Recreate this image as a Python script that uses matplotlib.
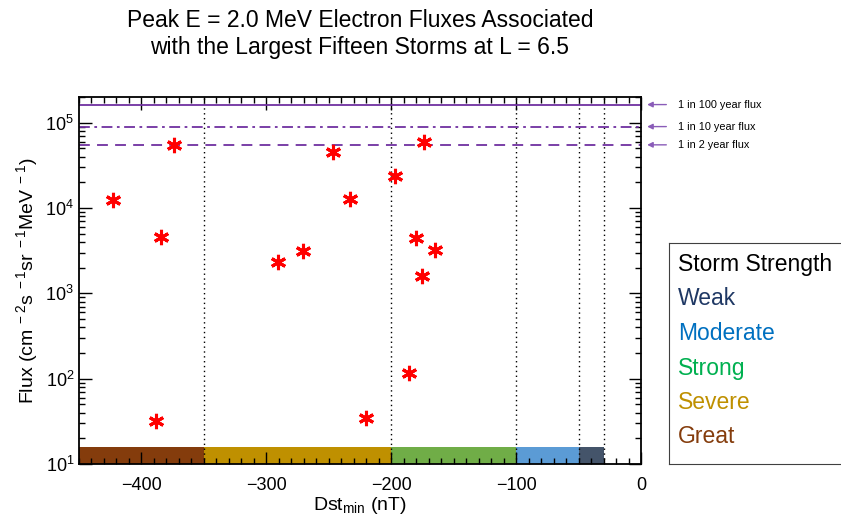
import matplotlib
matplotlib.use("Agg")
import matplotlib.pyplot as plt
import matplotlib.transforms as mtransforms
from matplotlib.ticker import MultipleLocator, LogLocator, NullFormatter
import numpy as np

plt.rcParams['font.family'] = ['Liberation Sans', 'DejaVu Sans']
plt.rcParams['mathtext.fontset'] = 'custom'
plt.rcParams['mathtext.rm'] = 'Liberation Sans'
plt.rcParams['mathtext.it'] = 'Liberation Sans:italic'

# storm minimum Dst (nT) and peak 2 MeV flux for the fifteen storms
dst_min = [-423, -388, -384, -374, -291, -271, -247, -233, -220, -197,
           -186, -180, -175, -174, -165]
flux = [12450, 32, 4620, 54900, 2355, 3140, 45100, 12680, 35, 24000,
        116, 4500, 1600, 60000, 3250]

# return-period flux levels
flux_levels = [1.63e5, 9.0e4, 5.5e4]
level_labels = ["1 in 100 year flux", "1 in 10 year flux", "1 in 2 year flux"]
level_styles = ["-", (0, (6, 2.5, 1.5, 2.5)), (0, (6, 4))]

# storm strength bands along the Dst axis
band_names = ["Great", "Severe", "Strong", "Moderate", "Weak"]
band_edges = [-450, -350, -200, -100, -50, -30]
band_colors = ["#843c0c", "#bf9000", "#70ad47", "#5b9bd5", "#44546a"]
text_colors = {"Weak": "#1f3864", "Moderate": "#0070c0", "Strong": "#00b050",
               "Severe": "#bf9000", "Great": "#843c0c"}

purple = "#7030a0"

fig = plt.figure(figsize=(8.41, 5.16), dpi=100)
ax = fig.add_axes([79 / 841, 1 - 464 / 516, (641 - 79) / 841, (464 - 97) / 516])

ax.set_yscale("log")
ax.set_xlim(-450, 0)
ax.set_ylim(10, 2.0e5)

# coloured strength bar at the bottom
for i, name in enumerate(band_names):
    x0, x1 = band_edges[i], band_edges[i + 1]
    ax.fill_between([x0, x1], 10, 15.8, color=band_colors[i], lw=0, zorder=1)

for x in band_edges[1:]:
    ax.axvline(x, color="black", ls=(0, (1, 2.5)), lw=1, zorder=2)

for lvl, ls in zip(flux_levels, level_styles):
    ax.axhline(lvl, color=purple, ls=ls, lw=1.3, zorder=2)

ax.plot(dst_min, flux, ls="none", marker=(6, 2, 0), ms=11, mew=2.2,
        color="red", zorder=3)

# arrows and labels for the flux levels, placed right of the axes
trans = mtransforms.blended_transform_factory(ax.transAxes, ax.transData)
for lvl, lab in zip(flux_levels, level_labels):
    ax.annotate("", xy=(1.006, lvl), xycoords=trans,
                xytext=(1.05, lvl), textcoords=trans,
                arrowprops=dict(arrowstyle="-|>", color="#8a5cb8", lw=1,
                                mutation_scale=8), annotation_clip=False)
    ax.text(1.065, lvl, lab, transform=trans, fontsize=7.8,
            va="center", ha="left", clip_on=False)

ax.xaxis.set_major_locator(MultipleLocator(100))
ax.xaxis.set_minor_locator(MultipleLocator(10))
ax.yaxis.set_major_locator(LogLocator(base=10, numticks=10))
ax.yaxis.set_minor_locator(LogLocator(base=10, subs=np.arange(2, 10), numticks=10))
ax.yaxis.set_minor_formatter(NullFormatter())
ax.tick_params(which="both", direction="in", top=True, right=True,
               labelsize=13, width=1)
ax.tick_params(which="major", length=9)
ax.tick_params(which="minor", length=4.5)
ax.tick_params(axis="x", pad=9)
for sp in ax.spines.values():
    sp.set_linewidth(1.3)

ax.set_xlabel("Dst$_{\\mathrm{min}}$ (nT)", fontsize=14, labelpad=1)
ax.set_ylabel("Flux (cm$^{\\ -2}$s$^{\\ -1}$sr$^{\\ -1}$MeV$^{\\ -1}$)",
              fontsize=14, labelpad=4)

fig.text(360 / 841, 1 - 34 / 516,
         "Peak E = 2.0 MeV Electron Fluxes Associated\n"
         "with the Largest Fifteen Storms at L = 6.5",
         ha="center", va="center", fontsize=16.5, linespacing=1.2)

# storm strength key
key = fig.add_axes([669 / 841, 1 - 464 / 516, 0.3, (464 - 243) / 516])
key.set_xticks([])
key.set_yticks([])
for sp in key.spines.values():
    sp.set_linewidth(0.8)
    sp.set_color("#404040")
key.set_xlim(0, 1)
key.set_ylim(464, 243)
key.text(0.035, 264, "Storm Strength", fontsize=16.5, va="center", color="black")
for name, y in zip(["Weak", "Moderate", "Strong", "Severe", "Great"],
                   [298, 333, 368, 402, 436]):
    key.text(0.035, y, name, fontsize=16.5, va="center", color=text_colors[name])

fig.savefig("out.png", dpi=100)
